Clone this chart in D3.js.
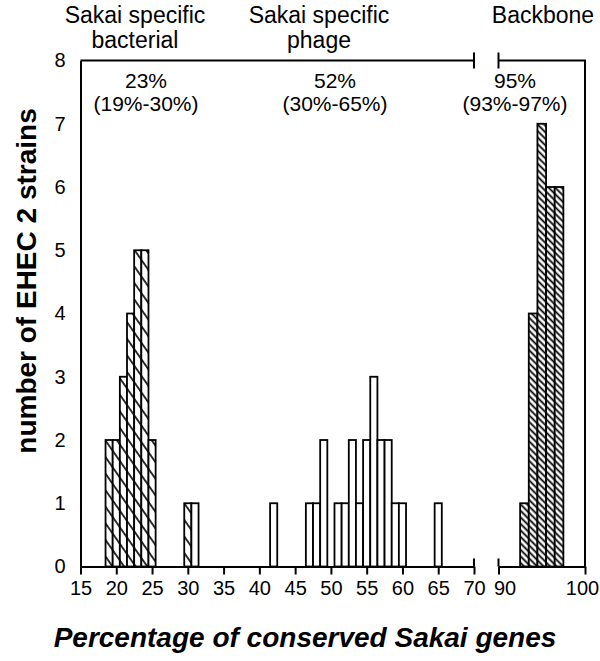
<!DOCTYPE html>
<html>
<head>
<meta charset="utf-8">
<script src="https://cdnjs.cloudflare.com/ajax/libs/d3/7.8.5/d3.min.js"></script>
<style>
	body { margin: 0; background: #fff; }
	svg text { font-family: 'Liberation Sans', Arial, sans-serif; fill: #000; }
</style>
</head>
<body>
<div id="chart"></div>
<script>
// bins are centred on whole percentages, one unit wide
const bacterialBins = [19, 20, 21, 22, 23, 24, 25, 30];
const bacterialCounts = [2, 2, 3, 4, 5, 5, 2, 1];

const phageBins = [31, 42, 47, 48, 49, 51, 52, 53, 54, 55, 56, 57, 58, 59, 60, 65];
const phageCounts = [1, 1, 1, 1, 2, 1, 1, 2, 1, 2, 3, 2, 2, 1, 1, 1];

const backboneBins = [93, 94, 95, 96, 97];
const backboneCounts = [1, 4, 7, 6, 6];

const leftTicks = [15, 20, 25, 30, 35, 40, 45, 50, 55, 60, 65, 70];
const rightTicks = [90, 100];
const yTicks = [0, 1, 2, 3, 4, 5, 6, 7, 8];

const groupLabels = [
	{ lines: ['Sakai specific', 'bacterial'], x: 135 },
	{ lines: ['Sakai specific', 'phage'], x: 319 },
	{ lines: ['Backbone'], x: 543 },
];
const groupStats = [
	{ lines: ['23%', '(19%-30%)'], x: 146 },
	{ lines: ['52%', '(30%-65%)'], x: 335 },
	{ lines: ['95%', '(93%-97%)'], x: 515 },
];

const width = 600;
const height = 661;

const svg = d3.select('#chart').append('svg')
	.attr('width', width)
	.attr('height', height);

const xLeft = d3.scaleLinear().domain([15, 70]).range([80.5, 474]);
const xRight = d3.scaleLinear().domain([90, 100]).range([498.5, 585]);
const yScale = d3.scaleLinear().domain([0, 8]).range([566.5, 60.5]);

const defs = svg.append('defs');

function hatch(id, spacing, angle, strokeWidth) {
	const p = defs.append('pattern')
		.attr('id', id)
		.attr('patternUnits', 'userSpaceOnUse')
		.attr('width', spacing)
		.attr('height', 10)
		.attr('patternTransform', `rotate(${-angle})`);
	p.append('rect')
		.attr('width', spacing)
		.attr('height', 10)
		.attr('fill', '#fff');
	p.append('line')
		.attr('x1', spacing / 2)
		.attr('x2', spacing / 2)
		.attr('y1', 0)
		.attr('y2', 10)
		.attr('stroke', '#000')
		.attr('stroke-width', strokeWidth);
}
hatch('sparse', 9.5, 35, 1.6);
hatch('dense', 4.6, 45, 1.8);

function bars(bins, counts, x, fill) {
	svg.append('g')
		.selectAll('rect')
		.data(d3.zip(bins, counts))
		.enter().append('rect')
			.attr('x', (d) => x(d[0] - 0.5))
			.attr('width', (d) => x(d[0] + 0.5) - x(d[0] - 0.5))
			.attr('y', (d) => yScale(d[1]))
			.attr('height', (d) => yScale(0) - yScale(d[1]))
			.attr('fill', fill)
			.attr('stroke', '#000')
			.attr('stroke-width', 1.8);
}

// the 31% bin is an open (phage) bar next to the hatched 30% bar
bars(bacterialBins, bacterialCounts, xLeft, 'url(#sparse)');
bars(phageBins, phageCounts, xLeft, '#fff');
bars(backboneBins, backboneCounts, xRight, 'url(#dense)');

// bottom axes, broken between 70 and 90
const axisLeftPart = svg.append('g')
	.attr('transform', `translate(0,${yScale(0)})`)
	.call(d3.axisBottom(xLeft).tickValues(leftTicks).tickSize(8).tickSizeOuter(0).tickPadding(6));
const axisRightPart = svg.append('g')
	.attr('transform', `translate(0,${yScale(0)})`)
	.call(d3.axisBottom(xRight).tickValues(rightTicks).tickSize(8).tickSizeOuter(0).tickPadding(6));

[axisLeftPart, axisRightPart].forEach((a) => {
	a.selectAll('path, line').attr('stroke', '#000').attr('stroke-width', 2);
	a.selectAll('text').style('font-size', '20px');
});
// labels at the break sit a little off their ticks, as in the original
axisRightPart.selectAll('text').attr('dx', (d) => (d === 100 ? -3 : 6));

const yAxis = svg.append('g')
	.attr('transform', `translate(${xLeft(15)},0)`)
	.call(d3.axisLeft(yScale).tickValues(yTicks).tickSize(0).tickSizeOuter(0).tickPadding(15));
yAxis.select('.domain').attr('stroke', '#000').attr('stroke-width', 2);
yAxis.selectAll('text').style('font-size', '20px');

// frame: top line, right line and break marks
const frame = svg.append('g')
	.attr('stroke', '#000')
	.attr('stroke-width', 2)
	.attr('fill', 'none');
frame.append('path')
	.attr('d', `M${xLeft(15)},${yScale(8)}H${xLeft(70)}`);
frame.append('path')
	.attr('d', `M${xRight(90)},${yScale(8)}H${xRight(100)}V${yScale(0)}`);
[xLeft(70), xRight(90)].forEach((bx) => {
	frame.append('line')
		.attr('x1', bx).attr('x2', bx)
		.attr('y1', yScale(8) - 8).attr('y2', yScale(8) + 8);
	frame.append('line')
		.attr('x1', bx).attr('x2', bx)
		.attr('y1', yScale(0) - 8).attr('y2', yScale(0));
});

groupLabels.forEach((g) => {
	const t = svg.append('text')
		.attr('text-anchor', 'middle')
		.style('font-size', '23px');
	g.lines.forEach((line, i) => {
		t.append('tspan')
			.attr('x', g.x)
			.attr('y', 23 + i * 25)
			.text(line);
	});
});

groupStats.forEach((g) => {
	const t = svg.append('text')
		.attr('text-anchor', 'middle')
		.style('font-size', '21px');
	g.lines.forEach((line, i) => {
		t.append('tspan')
			.attr('x', g.x)
			.attr('y', 88 + i * 23)
			.text(line);
	});
});

svg.append('text')
	.attr('transform', 'translate(36,281) rotate(-90)')
	.attr('text-anchor', 'middle')
	.style('font-size', '28px')
	.style('font-weight', 'bold')
	.text('number of EHEC 2 strains');

svg.append('text')
	.attr('x', 305)
	.attr('y', 647)
	.attr('text-anchor', 'middle')
	.style('font-size', '28px')
	.style('font-weight', 'bold')
	.style('font-style', 'italic')
	.text('Percentage of conserved Sakai genes');
</script>
</body>
</html>
